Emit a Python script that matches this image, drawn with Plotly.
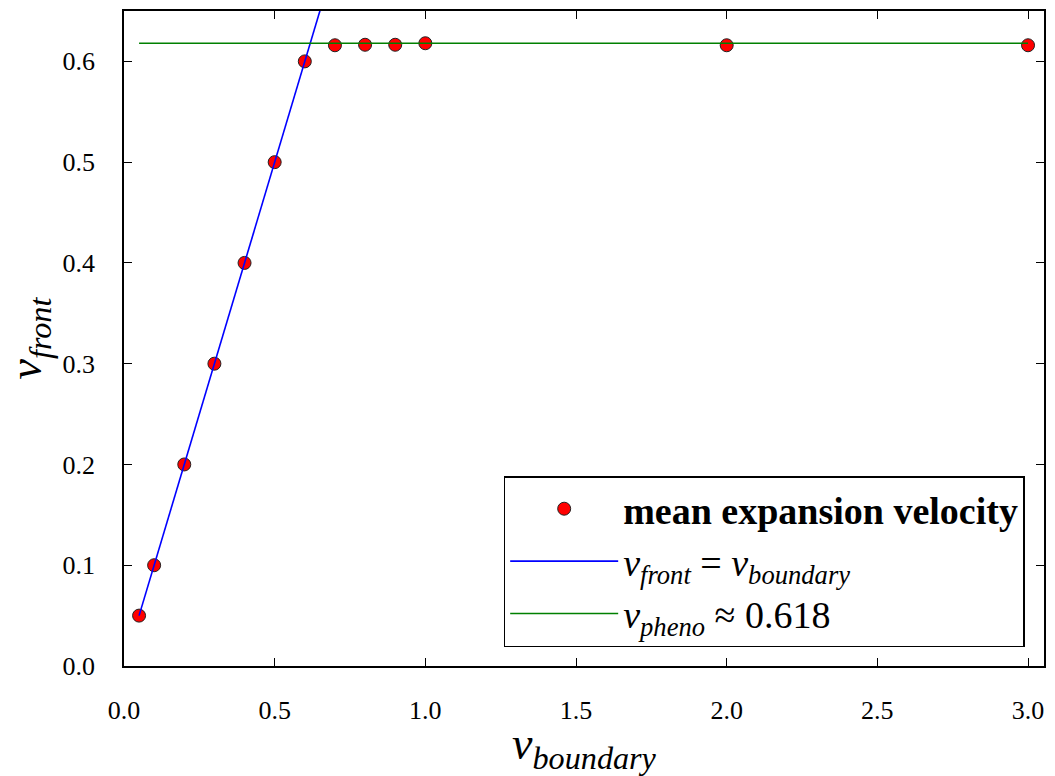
import plotly.graph_objects as go

v_boundary = [0.05, 0.1, 0.2, 0.3, 0.4, 0.5, 0.6, 0.7, 0.8, 0.9, 1.0, 2.0, 3.0]
v_front = [0.05, 0.1, 0.2, 0.3, 0.4, 0.5, 0.6, 0.616, 0.6165, 0.6165, 0.618, 0.616, 0.616]
line_x = [0.05, 3.0]
v_pheno = 0.618
x_ticks = [0.0, 0.5, 1.0, 1.5, 2.0, 2.5, 3.0]
y_ticks = [0.0, 0.1, 0.2, 0.3, 0.4, 0.5, 0.6]

FONT = "Liberation Serif"

fig = go.Figure()
fig.add_trace(go.Scatter(
    x=v_boundary, y=v_front, mode="markers",
    marker=dict(color="#ff0000", size=13, line=dict(color="#222222", width=1)),
    name="<b>mean expansion velocity</b>",
))
fig.add_trace(go.Scatter(
    x=line_x, y=line_x, mode="lines",
    line=dict(color="#0000ff", width=1.6),
    name="<i>v</i><sub><i>front</i></sub> = <i>v</i><sub><i>boundary</i></sub>",
))
fig.add_trace(go.Scatter(
    x=line_x, y=[v_pheno, v_pheno], mode="lines",
    line=dict(color="#008000", width=1.6),
    name="<i>v</i><sub><i>pheno</i></sub> ≈ 0.618",
))

fig.update_layout(
    width=1055, height=776,
    margin=dict(l=124, r=9, t=10, b=110),
    plot_bgcolor="white", paper_bgcolor="white",
    font=dict(family=FONT, size=26, color="black"),
    legend=dict(
        x=0.979, y=0.029, xanchor="right", yanchor="bottom",
        bgcolor="white", bordercolor="black", borderwidth=1.5,
        font=dict(family=FONT, size=38, color="black"),
        traceorder="normal", itemwidth=108, tracegroupgap=0,
    ),
)

fig.update_xaxes(
    range=[0, 3.053], tickmode="array", tickvals=x_ticks,
    ticktext=[f"{t:.1f}" for t in x_ticks],
    title_text="<i>v</i><sub><i>boundary</i></sub>",
    title_font=dict(family=FONT, size=46, color="black"), title_standoff=4,
    ticklabelstandoff=20,
)
fig.update_yaxes(
    range=[0, 0.65], tickmode="array", tickvals=y_ticks,
    ticktext=[f"{t:.1f}" for t in y_ticks],
    title_text="<i>v</i><sub><i>front</i></sub>",
    title_font=dict(family=FONT, size=46, color="black"), title_standoff=12,
    ticklabelstandoff=22,
)
fig.update_xaxes(
    showline=True, linecolor="black", linewidth=1.5, mirror="ticks",
    ticks="inside", ticklen=8, tickwidth=1, tickcolor="black",
    showgrid=False, zeroline=False,
    tickfont=dict(family=FONT, size=26, color="black"),
)
fig.update_yaxes(
    showline=True, linecolor="black", linewidth=1.5, mirror="ticks",
    ticks="inside", ticklen=8, tickwidth=1, tickcolor="black",
    showgrid=False, zeroline=False,
    tickfont=dict(family=FONT, size=26, color="black"),
)

fig.write_html("out.html")
